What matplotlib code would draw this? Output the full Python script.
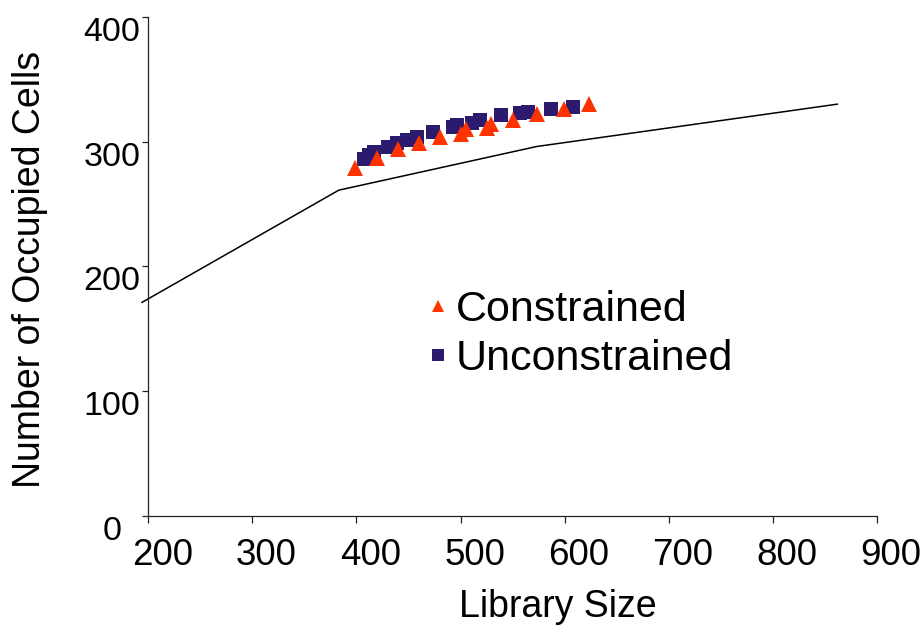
import numpy as np
import matplotlib
matplotlib.use('Agg')
from matplotlib import pyplot as plt
from matplotlib.lines import Line2D
import matplotlib.transforms as mtrans

# curva de referencia (linea negra)
linea_x = [194, 383, 573, 862]
linea_y = [171, 261, 296, 330]

# Constrained (triangulos)
constr_x = [399, 420, 440, 460, 480, 500, 505, 525, 529, 550, 573, 599, 623]
constr_y = [279, 287, 294, 299, 304, 306, 310, 311, 314, 317, 322, 326, 330]

# Unconstrained (cuadrados)
unconstr_x = [407, 412, 417, 430, 439, 449, 458, 474, 493, 497, 511, 519, 539, 557, 565, 587, 608]
unconstr_y = [286, 289, 292, 296, 299, 301, 304, 308, 312, 313, 315, 317, 321, 323, 324, 326, 328]

xticks = [200, 300, 400, 500, 600, 700, 800, 900]
yticks = [0, 100, 200, 300, 400]

plt.rcParams['font.family'] = ['Liberation Sans', 'DejaVu Sans']

fig = plt.figure(figsize=(9.24, 6.26), dpi=100)
ax = fig.add_axes([0.1605, 0.1765, 0.7885, 0.7965])

ax.plot(linea_x, linea_y, c='black', linewidth=1.1, clip_on=False, zorder=2)
ax.plot(unconstr_x, unconstr_y, 's', color='#2b1a6e', markersize=10.5,
        markeredgewidth=0, zorder=3, clip_on=False)
ax.plot(constr_x, constr_y, '^', color='#ff3300', markersize=11.5,
        markeredgewidth=0, zorder=4, clip_on=False)

ax.set_xlim(200, 900)
ax.set_ylim(0, 400)
ax.set_xticks(xticks)
ax.set_yticks(yticks)

for lado in ['top', 'right']:
  ax.spines[lado].set_visible(False)
for lado in ['left', 'bottom']:
  ax.spines[lado].set_linewidth(0.9)
  ax.spines[lado].set_color('#222222')

ax.tick_params(axis='x', direction='out', length=5, width=0.9, pad=11, labelsize=26.5, color='#222222')
ax.tick_params(axis='y', direction='out', length=4.3, width=0.9, pad=22, labelsize=24.5, color='#222222')

desplazar_x = mtrans.ScaledTranslation(14/100, 0, fig.dpi_scale_trans)
for lab in ax.get_xticklabels():
  lab.set_transform(lab.get_transform() + desplazar_x)
for lab in ax.get_yticklabels():
  lab.set_va('top')
  lab.set_ha('center')

ax.set_xlabel('Library Size', fontsize=27)
ax.set_ylabel('Number of Occupied Cells', fontsize=27)
ax.xaxis.set_label_coords(0.562, -0.148)
ax.yaxis.set_label_coords(-0.137, 0.494)

manijas = [
  Line2D([], [], marker='^', linestyle='none', color='#ff3300', markersize=9, markeredgewidth=0),
  Line2D([], [], marker='s', linestyle='none', color='#2b1a6e', markersize=9, markeredgewidth=0),
]
fig.legend(manijas, ['Constrained', 'Unconstrained'], loc='upper left',
           bbox_to_anchor=(428/924, 1 - 290/626), frameon=False, fontsize=31,
           handlelength=0.45, handletextpad=0.2, borderpad=0, borderaxespad=0,
           labelspacing=0.2)

fig.savefig('out.png', dpi=100)
